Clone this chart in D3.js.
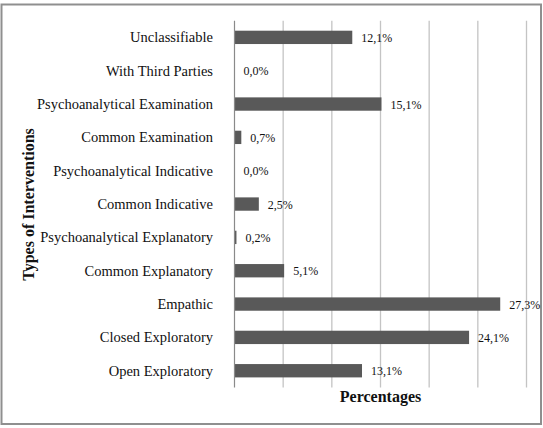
<!DOCTYPE html>
<html>
<head>
<meta charset="utf-8">
<script src="https://cdnjs.cloudflare.com/ajax/libs/d3/7.8.5/d3.min.js"></script>
<style>
  body { margin: 0; background: #fff; }
  text { font-family: "Liberation Serif", "Times New Roman", serif; fill: #111; }
</style>
</head>
<body>
<div id="graph"></div>
<script>
const width = 543, height = 428;
const categories = ['Unclassifiable', 'With Third Parties', 'Psychoanalytical Examination', 'Common Examination',
  'Psychoanalytical Indicative', 'Common Indicative', 'Psychoanalytical Explanatory', 'Common Explanatory',
  'Empathic', 'Closed Exploratory', 'Open Exploratory'];
const values = [12.1, 0.0, 15.1, 0.7, 0.0, 2.5, 0.2, 5.1, 27.3, 24.1, 13.1];
const gridTicks = [0, 5, 10, 15, 20, 25, 30];

let svg =
d3.select("#graph").
append("svg").
attr("width", width).
attr("height", height);

// outer frame
svg.append("rect").
attr("x", 1.5).
attr("y", 4.5).
attr("width", 539.5).
attr("height", 419.5).
attr("fill", "#fff").
attr("stroke", "#8f8f8f").
attr("stroke-width", 2);

const xScale =
d3.scaleLinear().
domain([0, 30]).
range([234.5, 526.5]);

const yScale =
d3.scaleBand().
domain(categories).
range([20.7, 387.4]).
paddingInner(0.6).
paddingOuter(0.3);

// vertical gridlines
svg.selectAll(".grid").
data(gridTicks.slice(1)).
enter().
append("line").
attr("class", "grid").
attr("x1", d => xScale(d)).
attr("x2", d => xScale(d)).
attr("y1", 20.7).
attr("y2", 387.4).
attr("stroke", "#c4c4c4").
attr("stroke-width", 1.3);

const data = categories.map((c, i) => ({ name: c, value: values[i] }));

svg.selectAll(".bar").
data(data).
enter().
append("rect").
attr("class", "bar").
attr("x", xScale(0)).
attr("y", d => yScale(d.name)).
attr("width", d => xScale(d.value) - xScale(0)).
attr("height", yScale.bandwidth()).
attr("fill", "#595959");

// y axis line
svg.append("line").
attr("x1", xScale(0)).
attr("x2", xScale(0)).
attr("y1", 20.7).
attr("y2", 387.4).
attr("stroke", "#8a8a8a").
attr("stroke-width", 1.2);

// category labels
svg.selectAll(".cat").
data(data).
enter().
append("text").
attr("class", "cat").
attr("x", 213).
attr("y", d => yScale(d.name) + yScale.bandwidth() / 2).
attr("dy", "0.35em").
attr("text-anchor", "end").
style("font-size", "14.5px").
text(d => d.name);

// value labels
svg.selectAll(".val").
data(data).
enter().
append("text").
attr("class", "val").
attr("x", d => xScale(d.value) + 9).
attr("y", d => yScale(d.name) + yScale.bandwidth() / 2).
attr("dy", "0.38em").
style("font-size", "12px").
text(d => d.value.toFixed(1).replace(".", ",") + "%");

// axis titles
svg.append("text").
attr("x", xScale(15)).
attr("y", 402).
attr("text-anchor", "middle").
style("font-size", "16px").
style("font-weight", "bold").
text("Percentages");

svg.append("text").
attr("transform", "translate(34, 204.5) rotate(-90)").
attr("text-anchor", "middle").
style("font-size", "16px").
style("font-weight", "bold").
text("Types of Interventions");
</script>
</body>
</html>
